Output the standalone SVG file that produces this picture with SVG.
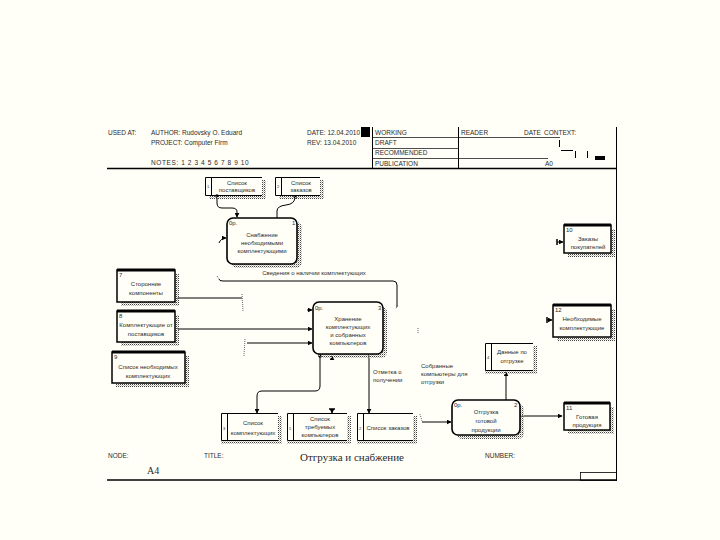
<svg xmlns="http://www.w3.org/2000/svg" width="720" height="540" viewBox="0 0 720 540">
<defs>
<pattern id="dots" width="2" height="2" patternUnits="userSpaceOnUse"><rect width="1" height="1" fill="#444"/><rect x="1" y="1" width="1" height="1" fill="#bbb"/></pattern>
<marker id="arr" viewBox="0 0 8 8" refX="7" refY="4" markerWidth="5" markerHeight="5" orient="auto"><path d="M0,0 L8,4 L0,8 z" fill="#000"/></marker>
<marker id="bar" viewBox="0 0 4 8" refX="2" refY="4" markerWidth="3" markerHeight="6" orient="auto"><rect x="1" y="0" width="2" height="8" fill="#000"/></marker>
<marker id="dot" viewBox="0 0 8 8" refX="4" refY="4" markerWidth="4" markerHeight="4"><circle cx="4" cy="4" r="3.5" fill="#000"/></marker>
</defs>
<style>
text{font-family:"Liberation Sans",Arial,sans-serif;font-size:6px;fill:#2a2a2a}
.c{text-anchor:middle}
.hd{font-size:6.5px}
.fr{stroke:#000;fill:none}
.proc{fill:#fffff8;stroke:#000;stroke-width:1.6}
.ext{fill:#fffff8;stroke:#000;stroke-width:1.5}
.st{stroke:#000;stroke-width:1;fill:none}
.sh{fill:url(#dots)}
.ln{stroke:#000;stroke-width:1;fill:none}
.tk{stroke:#666;stroke-width:1;fill:none;stroke-dasharray:1 1}
</style>
<rect width="720" height="540" fill="#fffff8"/>

<g id="frame">
<line class="fr" x1="616.5" y1="127" x2="616.5" y2="481"/>
<line class="fr" x1="107" y1="168.5" x2="617" y2="168.5" stroke-width="1.5"/>
<line class="fr" x1="107" y1="480" x2="617" y2="480" stroke-width="1.5"/>
<rect x="361" y="127" width="9" height="10" fill="#000"/>
<line class="fr" x1="372.5" y1="127" x2="372.5" y2="168"/>
<line class="fr" x1="458.5" y1="127" x2="458.5" y2="168"/>
<line class="fr" x1="372" y1="137.5" x2="560" y2="137.5" stroke-width="0.7"/>
<line class="fr" x1="372" y1="148.5" x2="458" y2="148.5" stroke-width="0.7"/>
<line class="fr" x1="372" y1="158.5" x2="548" y2="158.5" stroke-width="0.7"/>
<text class="hd" x="108" y="135">USED AT:</text>
<text class="hd" x="151" y="135">AUTHOR:  Rudovsky O. Eduard</text>
<text class="hd" x="151" y="145">PROJECT:    Computer Firm</text>
<text class="hd" x="151" y="165" style="letter-spacing:0.6px">NOTES:  1  2  3  4  5  6  7  8  9  10</text>
<text class="hd" x="307" y="135">DATE:  12.04.2010</text>
<text class="hd" x="307" y="145">REV:   13.04.2010</text>
<text class="hd" x="375" y="135">WORKING</text>
<text class="hd" x="375" y="145">DRAFT</text>
<text class="hd" x="375" y="155">RECOMMENDED</text>
<text class="hd" x="375" y="166">PUBLICATION</text>
<text class="hd" x="461" y="135">READER</text>
<text class="hd" x="524" y="135">DATE</text>
<text class="hd" x="544" y="135">CONTEXT:</text>
<text class="hd" x="545" y="166">A0</text>
<line class="fr" x1="559.5" y1="140" x2="559.5" y2="147"/>
<line class="fr" x1="561" y1="150.5" x2="573" y2="150.5"/>
<line class="fr" x1="575.5" y1="151" x2="575.5" y2="158"/>
<line class="fr" x1="587.5" y1="151" x2="587.5" y2="158"/>
<rect x="595" y="156" width="10" height="4" fill="#000"/>
<text class="hd" x="108" y="458">NODE:</text>
<text class="hd" x="204" y="458">TITLE:</text>
<text x="352" y="461" style="font-family:'Liberation Serif','Times New Roman',serif;font-size:11px;text-anchor:middle">Отгрузка и  снабжение</text>
<text class="hd" x="485" y="458">NUMBER:</text>
<text x="147" y="474" style="font-family:'Liberation Serif','Times New Roman',serif;font-size:10px">A4</text>
<rect class="fr" x="580.5" y="472.5" width="36" height="8" stroke-width="0.8"/>
</g>

<g id="connectors">
<path class="ln" d="M217,196 L217,203 Q217,208 222,208 L232,208 Q237,208 237,212 L237,217" marker-start="url(#dot)" marker-end="url(#arr)"/>
<path class="ln" d="M295,197 Q295,204 286,205 Q277,206 277,211 L277,219" marker-start="url(#dot)"/>
<path class="ln" d="M219,243 Q221,238 226,238" marker-end="url(#arr)"/>
<path class="ln" d="M219,279 Q219,281 223,281 L393,281 Q397,281 397,285 L397,307"/>
<path class="tk" d="M217,276 L219,279 M397,305 L396,309"/>
<text x="314" y="275" class="c">Сведения о наличии комплектующих</text>
<path class="ln" d="M177,298 L242,298"/>
<path class="tk" d="M242,294 L243,311"/>
<path class="ln" d="M177,329 L312,329" marker-end="url(#arr)"/>
<path class="ln" d="M247,343 L312,343" marker-end="url(#arr)"/>
<path class="tk" d="M245,339 L244,356"/>
<path class="ln" d="M307,310 L312,310" marker-end="url(#arr)"/>
<path class="ln" d="M320,356 L320,386 Q320,391 315,391 L262,391 Q257,391 257,396 L257,413" marker-start="url(#dot)" marker-end="url(#arr)"/>
<path class="ln" d="M332,359 L332,356" marker-end="url(#arr)"/>
<path class="ln" d="M332,409 L332,413" marker-start="url(#bar)" marker-end="url(#arr)"/>
<path class="ln" d="M369,355 L369,413" marker-end="url(#arr)"/>
<text x="373" y="374">Отметка о</text>
<text x="373" y="382">получении</text>
<text x="421" y="368">Собранные</text>
<text x="421" y="376">компьютеры для</text>
<text x="421" y="384">отгрузки</text>
<path class="tk" d="M418,328 L418,334"/>
<path class="ln" d="M422,422 L451,422" marker-end="url(#arr)"/>
<path class="tk" d="M420,414 L422,421"/>
<path class="ln" d="M506,400 L506,372" marker-end="url(#arr)"/>
<path class="ln" d="M520,416 L562,416" marker-end="url(#arr)"/>
<path class="ln" d="M557,242 L563,242" marker-start="url(#bar)" marker-end="url(#arr)"/>
<path class="ln" d="M547,320 L552,320" marker-start="url(#bar)" marker-end="url(#arr)"/>
</g>

<g id="store-suppliers">
<path class="sh" d="M262,180 h4 v19 h-57 v-4 h53 z"/>
<path class="st" d="M262,177.5 H205.5 V195.5 H262 M211.5,178 V195"/>
<text x="207" y="188" style="font-size:4px">1</text>
<text class="c" x="237" y="185">Список</text>
<text class="c" x="237" y="192">поставщиков</text>
</g>
<g id="store-orders-top">
<path class="sh" d="M320,180 h4 v19 h-45 v-4 h41 z"/>
<path class="st" d="M320,177.5 H275.5 V195.5 H320 M281.5,178 V195"/>
<text x="277" y="188" style="font-size:4px">2</text>
<text class="c" x="301" y="185">Список</text>
<text class="c" x="301" y="192">заказов</text>
</g>

<g id="process-supply">
<rect class="sh" x="231" y="222" width="71" height="46" rx="6"/>
<rect class="proc" x="227" y="218" width="70" height="46" rx="6"/>
<text x="229" y="225">0р.</text>
<text x="292" y="225">1</text>
<text class="c" x="262" y="237">Снабжение</text>
<text class="c" x="262" y="245">необходимыми</text>
<text class="c" x="262" y="253">комплектующими</text>
</g>

<g id="ext-orders">
<rect class="sh" x="568" y="229" width="47" height="28"/>
<rect class="ext" x="564" y="225" width="47" height="28"/>
<line x1="564" y1="225" x2="611" y2="225" stroke="#000" stroke-width="3"/>
<text x="566" y="232">10</text>
<text class="c" x="588" y="241">Заказы</text>
<text class="c" x="588" y="249">покупателей</text>
</g>

<g id="ext-external-components">
<rect class="sh" x="121" y="274" width="58" height="32"/>
<rect class="ext" x="117" y="270" width="58" height="32"/>
<line x1="117" y1="270" x2="175" y2="270" stroke="#000" stroke-width="3"/>
<text x="119" y="277">7</text>
<text class="c" x="146" y="286">Сторонние</text>
<text class="c" x="146" y="295">компоненты</text>
</g>

<g id="ext-supplier-parts">
<rect class="sh" x="121" y="315" width="58" height="31"/>
<rect class="ext" x="117" y="311" width="58" height="31"/>
<line x1="117" y1="311" x2="175" y2="311" stroke="#000" stroke-width="3"/>
<text x="119" y="318">8</text>
<text class="c" x="146" y="327">Комплектующие от</text>
<text class="c" x="146" y="336">поставщиков</text>
</g>

<g id="ext-needed-list">
<rect class="sh" x="116" y="356" width="73" height="31"/>
<rect class="ext" x="112" y="352" width="73" height="31"/>
<line x1="112" y1="352" x2="185" y2="352" stroke="#000" stroke-width="3"/>
<text x="114" y="359">9</text>
<text class="c" x="148" y="369">Список необходимых</text>
<text class="c" x="148" y="378">комплектующих</text>
</g>

<g id="process-storage">
<rect class="sh" x="317" y="306" width="70" height="52" rx="6"/>
<rect class="proc" x="313" y="302" width="70" height="52" rx="6"/>
<text x="315" y="310">0р.</text>
<text x="378" y="310">3</text>
<text class="c" x="348" y="321">Хранение</text>
<text class="c" x="348" y="329">комплектующих</text>
<text class="c" x="348" y="337">и собранных</text>
<text class="c" x="348" y="345">компьютеров</text>
</g>

<g id="ext-needed-parts">
<rect class="sh" x="557" y="309" width="58" height="32"/>
<rect class="ext" x="553" y="305" width="58" height="32"/>
<line x1="553" y1="305" x2="611" y2="305" stroke="#000" stroke-width="3"/>
<text x="555" y="312">12</text>
<text class="c" x="582" y="321">Необходимые</text>
<text class="c" x="582" y="330">комплектующие</text>
</g>

<g id="store-shipping-data">
<path class="sh" d="M533,346 h4 v28 h-52 v-4 h48 z"/>
<path class="st" d="M533,343.5 H485.5 V370.5 H533 M491.5,344 V370"/>
<text x="487" y="359" style="font-size:4px">4</text>
<text class="c" x="512" y="354">Данные по</text>
<text class="c" x="512" y="363">отгрузке</text>
</g>

<g id="store-parts-list">
<path class="sh" d="M278,416 h4 v28 h-61 v-4 h57 z"/>
<path class="st" d="M278,413.5 H221.5 V440.5 H278 M227.5,414 V440"/>
<text x="223" y="430" style="font-size:4px">3</text>
<text class="c" x="253" y="425">Список</text>
<text class="c" x="253" y="435">комплектующих</text>
</g>

<g id="store-required-pcs">
<path class="sh" d="M347,416 h4 v28 h-64 v-4 h60 z"/>
<path class="st" d="M347,413.5 H287.5 V440.5 H347 M293.5,414 V440"/>
<text x="289" y="430" style="font-size:4px">5</text>
<text class="c" x="320" y="421">Список</text>
<text class="c" x="320" y="429">требуемых</text>
<text class="c" x="320" y="437">компьютеров</text>
</g>

<g id="store-orders-bottom">
<path class="sh" d="M413,416 h4 v28 h-60 v-4 h56 z"/>
<path class="st" d="M413,413.5 H357.5 V440.5 H413 M363.5,414 V440"/>
<text x="359" y="430" style="font-size:4px">2</text>
<text class="c" x="388" y="430">Список заказов</text>
</g>

<g id="process-shipping">
<rect class="sh" x="456" y="404" width="68" height="35" rx="6"/>
<rect class="proc" x="452" y="400" width="68" height="35" rx="6"/>
<text x="454" y="407">0р.</text>
<text x="514" y="407">2</text>
<text class="c" x="486" y="414">Отгрузка</text>
<text class="c" x="486" y="423">готовой</text>
<text class="c" x="486" y="432">продукции</text>
</g>

<g id="ext-finished">
<rect class="sh" x="568" y="407" width="46" height="27"/>
<rect class="ext" x="564" y="403" width="46" height="27"/>
<line x1="564" y1="403" x2="610" y2="403" stroke="#000" stroke-width="3"/>
<text x="566" y="410">11</text>
<text class="c" x="587" y="419">Готовая</text>
<text class="c" x="587" y="427">продукция</text>
</g>
</svg>
